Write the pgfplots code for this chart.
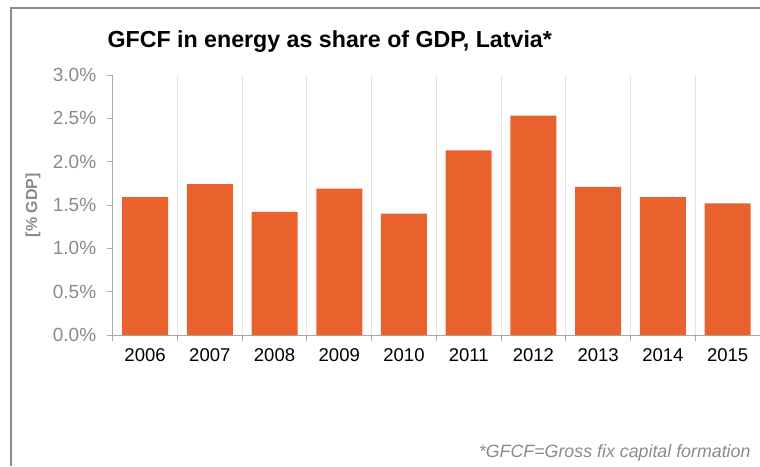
\documentclass[border=0pt]{standalone}
\usepackage{fontspec}
\setmainfont{Liberation Sans}
\usepackage{pgfplots}
\pgfplotsset{compat=1.18}

\definecolor{barorange}{HTML}{E9622D}
\definecolor{ticktext}{HTML}{8A8A8A}
\definecolor{axisgray}{HTML}{A8A8A8}
\definecolor{gridgray}{HTML}{E4E4E4}
\definecolor{framegray}{HTML}{8C8C8C}

\begin{document}
\begin{tikzpicture}[x=1pt,y=1pt]
\useasboundingbox (0,0) rectangle (760,-466);

% outer frame (only top and left edges are visible)
\draw[framegray, line width=2pt] (11,-466) -- (11,-8) -- (760,-8);

\begin{axis}[
    at={(112.7pt,-335pt)}, anchor=south west,
    scale only axis,
    width=647.3pt, height=260pt,
    ybar, bar width=46pt,
    xmin=-0.5, xmax=9.5, ymin=0, ymax=3,
    enlargelimits=false,
    axis x line*=bottom, axis y line*=left,
    axis line style={draw=axisgray, line width=1pt},
    xtick=data,
    xticklabels={2006,2007,2008,2009,2010,2011,2012,2013,2014,2015},
    minor xtick={-0.5,0.5,...,9.5},
    xminorgrids=true,
    minor x grid style={draw=gridgray, line width=1pt},
    major x tick style={draw=none},
    minor x tick style={draw=axisgray, line width=1pt},
    ytick={0,0.5,1,1.5,2,2.5,3},
    yticklabels={0.0\%,0.5\%,1.0\%,1.5\%,2.0\%,2.5\%,3.0\%},
    y tick style={draw=axisgray, line width=1pt},
    tick align=outside,
    major tick length=6pt, minor tick length=6pt,
    /pgf/number format/assume math mode=true,
    xticklabel style={font=\fontsize{18.5}{20}\selectfont, text=black, yshift=-4pt},
    yticklabel style={font=\fontsize{19}{21}\selectfont, text=ticktext, xshift=-7pt},
    clip=false,
]
\addplot[fill=barorange, draw=none] coordinates {
    (0,1.59) (1,1.74) (2,1.42) (3,1.69) (4,1.40)
    (5,2.13) (6,2.53) (7,1.71) (8,1.59) (9,1.52)
};
\end{axis}

\node[anchor=west, font=\bfseries\fontsize{23.2}{27}\selectfont] at (104,-42)
    {GFCF in energy as share of GDP, Latvia*};
\node[rotate=90, text=ticktext, font=\bfseries\fontsize{16}{18}\selectfont] at (33,-205)
    {[\% GDP]};
\node[anchor=east, text=ticktext, font=\itshape\fontsize{17.8}{20}\selectfont] at (754,-453)
    {*GFCF=Gross fix capital formation};
\end{tikzpicture}
\end{document}
